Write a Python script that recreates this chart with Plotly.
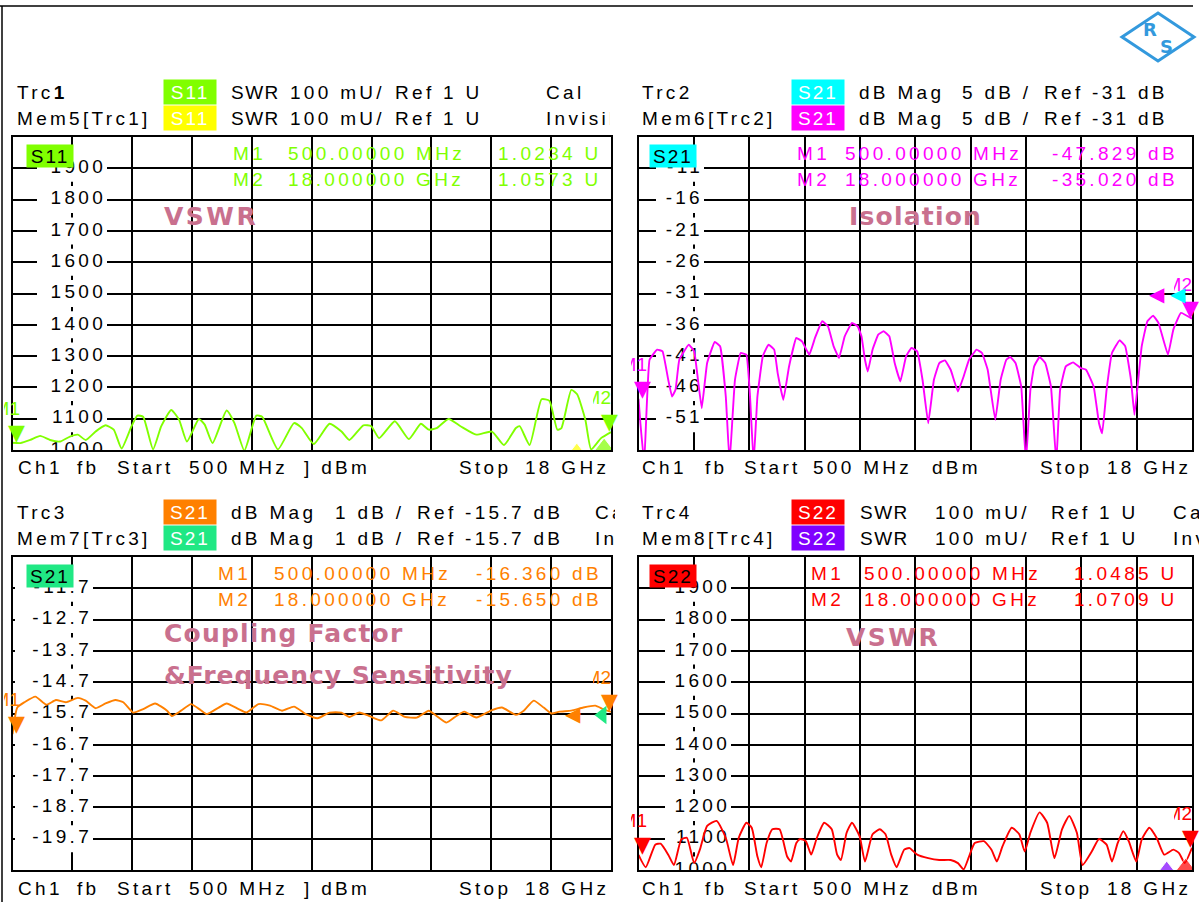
import plotly.graph_objects as go

W, H = 1199, 902
FONT = "Liberation Sans, Arial, sans-serif"
BOLDFONT = "DejaVu Sans, Liberation Sans, sans-serif"

# ---------------- data ----------------
F_START, F_STOP, F_DIV = 0.5, 18.0, 1.75  # GHz

# Trc1 S11 SWR (top left)
s11_freq = [0.50, 0.73, 1.02, 1.31, 1.60, 1.89, 2.18, 2.41, 2.64, 2.93, 3.22, 3.46, 3.69, 3.98, 4.15, 4.32,
            4.61, 4.85, 5.14, 5.37, 5.60, 5.95, 6.12, 6.35, 6.76, 6.99, 7.28, 7.63, 7.80, 8.26, 8.73, 8.96,
            9.31, 9.77, 10.12, 10.35, 10.76, 10.99, 11.22, 11.68, 12.09, 12.44, 12.67, 12.90, 13.25, 13.60,
            14.06, 14.52, 14.87, 15.22, 15.33, 15.62, 15.97, 16.20, 16.43, 16.55, 16.84, 17.01, 17.25, 17.42,
            17.71, 18.00]
s11_swr = [1.0234, 1.022, 1.032, 1.045, 1.032, 1.027, 1.043, 1.049, 1.032, 1.059, 1.079, 1.065, 1.005, 1.076,
           1.110, 1.106, 1.002, 1.076, 1.128, 1.097, 1.027, 1.099, 1.081, 1.022, 1.126, 1.086, 0.998, 1.110,
           1.106, 1.002, 1.086, 1.070, 1.019, 1.084, 1.059, 1.032, 1.079, 1.076, 1.038, 1.092, 1.035, 1.084,
           1.065, 1.070, 1.099, 1.076, 1.049, 1.059, 1.016, 1.070, 1.076, 1.016, 1.162, 1.157, 1.065, 1.070,
           1.192, 1.178, 1.097, 1.002, 1.038, 1.0573]

# Mem6[Trc2] S21 isolation dB (top right)
iso_freq = [0.50, 0.56, 0.68, 0.85, 1.09, 1.26, 1.44, 1.56, 1.67, 1.79, 2.09, 2.26, 2.38, 2.50, 2.67, 2.91,
            3.08, 3.26, 3.38, 3.55, 3.73, 3.91, 4.02, 4.14, 4.26, 4.43, 4.61, 4.79, 4.90, 5.08, 5.26, 5.49,
            5.67, 5.90, 6.08, 6.31, 6.49, 6.67, 6.84, 7.02, 7.25, 7.43, 7.55, 7.66, 7.75, 7.90, 8.08, 8.25,
            8.43, 8.60, 8.78, 8.96, 9.13, 9.31, 9.48, 9.66, 9.84, 10.01, 10.19, 10.37, 10.60, 10.78, 10.95,
            11.19, 11.36, 11.54, 11.78, 11.95, 12.13, 12.25, 12.42, 12.60, 12.75, 12.89, 13.01, 13.18, 13.36,
            13.54, 13.71, 13.83, 14.01, 14.24, 14.48, 14.65, 14.89, 15.06, 15.16, 15.30, 15.47, 15.71, 15.89,
            16.07, 16.18, 16.30, 16.41, 16.59, 16.77, 16.94, 17.24, 17.41, 17.65, 18.00]
iso_db = [-47.83, -51.73, -58.0, -41.58, -39.97, -40.24, -44.78, -47.45, -46.38, -41.58, -39.17, -40.24,
          -44.78, -49.32, -42.11, -38.75, -39.44, -47.45, -58.0, -44.78, -40.51, -40.78, -46.92, -58.0,
          -47.45, -41.04, -39.17, -39.97, -43.71, -47.99, -42.65, -38.10, -38.64, -40.78, -38.10, -35.43,
          -36.24, -39.44, -41.31, -37.84, -35.70, -36.24, -37.84, -41.58, -43.45, -39.97, -37.57, -37.04,
          -37.84, -42.11, -45.05, -41.04, -39.71, -40.24, -44.78, -51.73, -44.78, -42.11, -41.68, -43.18,
          -46.65, -44.25, -41.58, -39.97, -40.51, -43.18, -51.19, -44.78, -41.58, -41.15, -42.11, -45.85,
          -58.0, -46.38, -42.65, -41.15, -42.11, -45.85, -58.0, -46.38, -42.65, -42.00, -42.91, -43.18,
          -45.85, -51.73, -53.33, -46.38, -40.51, -38.48, -39.44, -44.78, -50.39, -44.78, -39.44, -35.43,
          -34.53, -35.70, -40.78, -36.77, -34.10, -35.02]

# Trc3 S21 coupling dB (bottom left)
cpl_freq = [0.50, 0.64, 0.85, 1.17, 1.49, 1.77, 2.06, 2.41, 2.64, 2.93, 3.22, 3.51, 3.74, 4.03, 4.32, 4.67,
            5.02, 5.16, 5.43, 5.72, 6.00, 6.18, 6.53, 6.76, 7.11, 7.34, 7.69, 8.03, 8.38, 8.73, 9.08, 9.42,
            9.77, 10.12, 10.35, 10.64, 10.93, 11.28, 11.63, 11.97, 12.32, 12.67, 12.90, 13.19, 13.48, 13.71,
            14.06, 14.52, 14.81, 15.22, 15.45, 15.74, 16.03, 16.26, 16.49, 16.84, 17.19, 17.54, 17.77, 18.00]
cpl_db = [-16.36, -15.51, -15.34, -15.16, -15.42, -15.27, -15.34, -15.20, -15.29, -15.53, -15.38, -15.27,
          -15.34, -15.67, -15.56, -15.38, -15.61, -15.78, -15.61, -15.40, -15.59, -15.72, -15.51, -15.38,
          -15.56, -15.67, -15.40, -15.45, -15.61, -15.48, -15.72, -15.85, -15.67, -15.67, -15.81, -15.67,
          -15.78, -15.92, -15.61, -15.81, -15.83, -15.61, -15.78, -15.99, -15.78, -15.64, -15.83, -15.59,
          -15.51, -15.74, -15.61, -15.29, -15.51, -15.70, -15.64, -15.61, -15.51, -15.45, -15.56, -15.65]

# Trc4 S22 SWR (bottom right)
s22_freq = [0.50, 0.73, 1.03, 1.20, 1.44, 1.62, 1.85, 2.03, 2.26, 2.44, 2.67, 2.97, 3.26, 3.49, 3.67, 3.91,
            4.08, 4.26, 4.38, 4.55, 4.73, 4.96, 5.20, 5.32, 5.49, 5.61, 5.79, 5.96, 6.14, 6.37, 6.61, 6.78,
            6.90, 7.08, 7.25, 7.49, 7.66, 7.90, 8.13, 8.31, 8.49, 8.66, 8.90, 9.07, 9.31, 9.66, 10.01, 10.37,
            10.60, 10.78, 10.95, 11.13, 11.42, 11.66, 11.83, 12.01, 12.30, 12.54, 12.71, 12.89, 13.18, 13.42,
            13.65, 13.89, 14.12, 14.36, 14.54, 14.83, 15.06, 15.30, 15.47, 15.65, 15.83, 16.00, 16.24, 16.41,
            16.65, 16.88, 17.12, 17.41, 17.59, 17.77, 18.00]
s22_swr = [1.0485, 1.009, 1.081, 1.084, 1.049, 1.016, 1.097, 1.103, 1.022, 1.065, 1.141, 1.157, 1.103, 1.016,
           1.103, 1.151, 1.135, 1.043, 1.009, 1.086, 1.130, 1.130, 1.043, 1.027, 1.086, 1.099, 1.092, 1.049,
           1.103, 1.151, 1.130, 1.049, 1.032, 1.119, 1.151, 1.108, 1.027, 1.114, 1.130, 1.114, 1.049, 1.009,
           1.065, 1.070, 1.049, 1.038, 1.032, 1.032, 1.022, 1.002, 1.043, 1.086, 1.092, 1.065, 1.027, 1.076,
           1.135, 1.114, 1.059, 1.119, 1.184, 1.151, 1.038, 1.130, 1.173, 1.119, 1.016, 1.059, 1.099, 1.081,
           1.027, 1.086, 1.124, 1.092, 1.027, 1.097, 1.135, 1.103, 1.049, 1.065, 1.054, 1.022, 1.0709]

# marker values (M1 at 500 MHz, M2 at 18 GHz)
mk_freq = [0.5, 18.0]
mk_freq_text = ["500.00000 MHz", "18.000000 GHz"]
tl_mk = [1.0234, 1.0573]
tr_mk = [-47.829, -35.020]
bl_mk = [-16.360, -15.650]
br_mk = [1.0485, 1.0709]

# axis scales and grid-value labels
swr_range = [1.0, 2.0]
iso_range = [-56.0, -6.0]
cpl_range = [-20.7, -10.7]
swr_ticks = [1.9, 1.8, 1.7, 1.6, 1.5, 1.4, 1.3, 1.2, 1.1, 1.0]
swr_tick_text = ["1900", "1800", "1700", "1600", "1500", "1400", "1300", "1200", "1100", "1000"]
iso_ticks = [-11, -16, -21, -26, -31, -36, -41, -46, -51]
iso_tick_text = ["-11", "-16", "-21", "-26", "-31", "-36", "-41", "-46", "-51"]
cpl_ticks = [-11.7, -12.7, -13.7, -14.7, -15.7, -16.7, -17.7, -18.7, -19.7]
cpl_tick_text = ["-11.7", "-12.7", "-13.7", "-14.7", "-15.7", "-16.7", "-17.7", "-18.7", "-19.7"]
ref_iso, ref_cpl = -31.0, -15.7

GREEN, YELLOW = "#80ff00", "#ffff00"
CYAN, MAGENTA = "#00ffff", "#ff00ff"
ORANGE, MEMGREEN = "#ff8000", "#20e884"
RED, PURPLE = "#ff0000", "#8000ff"
PINK = "#c9708e"
LOGO = "#3399dd"

# ---------------- layout geometry (px) ----------------
LX, RX = (12.5, 611.0), (638.5, 1192.0)
TY, BY = (137.0, 450.0), (557.0, 870.0)


def px(x):
    return x / W


def py(y):
    return 1 - y / H


def fx(p, dom):
    """pixel column -> frequency on a panel's x axis"""
    return F_START + (p - dom[0]) / (dom[1] - dom[0]) * (F_STOP - F_START)


def sp(t, ls=3.3):
    return f'<span style="letter-spacing:{ls}px">{t}</span>' if ls else t


def T(text, x, y, size=19, color="black", anchor="left", ls=3.3, family=FONT, **kw):
    a = dict(text=sp(text, ls), x=px(x), y=py(y), xref="paper", yref="paper", xanchor=anchor,
             yanchor="middle", showarrow=False, font=dict(family=family, size=size, color=color))
    a.update(kw)
    return a


fig = go.Figure()
shapes = []

# ---------- grid value labels: white boxes (between grid and traces) + clipped text ----------
def ylabels(vals, texts, xa, ya, xdom, ydom, rng, left, right):
    half = 13.5 * (rng[1] - rng[0]) / (ydom[1] - ydom[0])
    for v in vals:
        shapes.append(dict(type="rect", xref=xa, yref=ya, x0=fx(left, xdom), x1=fx(right, xdom),
                           y0=v - half, y1=v + half, fillcolor="white", line=dict(width=0), layer="between"))
    fig.add_trace(go.Scatter(x=[fx(right - 1, xdom)] * len(vals), y=vals, mode="text",
                             text=[sp(t) for t in texts], textposition="middle left",
                             textfont=dict(family=FONT, size=19, color="black"),
                             xaxis=xa, yaxis=ya, hoverinfo="skip", cliponaxis=True))


ylabels(swr_ticks, swr_tick_text, "x", "y", LX, TY, swr_range, 37, 107)
ylabels(iso_ticks, iso_tick_text, "x2", "y2", RX, TY, iso_range, 656, 704)
ylabels(cpl_ticks, cpl_tick_text, "x3", "y3", LX, BY, cpl_range, 15, 93)
ylabels(swr_ticks, swr_tick_text, "x4", "y4", RX, BY, swr_range, 665, 731)

line_kw = dict(width=1.9)
fig.add_trace(go.Scatter(x=s11_freq, y=s11_swr, mode="lines", xaxis="x", yaxis="y",
                         line=dict(color=GREEN, shape="spline", smoothing=0.5, **line_kw), hoverinfo="skip"))
fig.add_trace(go.Scatter(x=iso_freq, y=iso_db, mode="lines", xaxis="x2", yaxis="y2",
                         line=dict(color=MAGENTA, shape="spline", smoothing=0.3, **line_kw), hoverinfo="skip"))
fig.add_trace(go.Scatter(x=cpl_freq, y=cpl_db, mode="lines", xaxis="x3", yaxis="y3",
                         line=dict(color=ORANGE, shape="spline", smoothing=0.5, **line_kw), hoverinfo="skip"))
fig.add_trace(go.Scatter(x=s22_freq, y=s22_swr, mode="lines", xaxis="x4", yaxis="y4",
                         line=dict(color=RED, shape="spline", smoothing=0.5, **line_kw), hoverinfo="skip"))

# memory-trace marker stubs at the bottom right corners (clipped)
fig.add_trace(go.Scatter(x=[17.0, 17.8], y=[swr_range[0], swr_range[0]], mode="markers", xaxis="x", yaxis="y",
                         marker=dict(symbol="triangle-up", size=[14, 24], color=[YELLOW, GREEN]), hoverinfo="skip"))
fig.add_trace(go.Scatter(x=[17.2, 17.8], y=[swr_range[0], swr_range[0]], mode="markers", xaxis="x4", yaxis="y4",
                         marker=dict(symbol="triangle-up", size=[18, 24], color=[PURPLE, RED]), hoverinfo="skip"))
fig.add_trace(go.Scatter(x=[17.75], y=[ref_cpl - 0.05], mode="markers", xaxis="x3", yaxis="y3",
                         marker=dict(symbol="triangle-left", size=16, color=MEMGREEN), hoverinfo="skip"))


def xax(dom, anchor):
    return dict(domain=[px(dom[0]), px(dom[1])], range=[F_START, F_STOP], tick0=F_START, dtick=F_DIV,
                showgrid=True, gridcolor="black", gridwidth=2, showline=True, linecolor="black", linewidth=2,
                mirror=True, showticklabels=False, ticks="", zeroline=False, anchor=anchor, fixedrange=True)


def yax(dom, rng, dt, anchor):
    return dict(domain=[py(dom[1]), py(dom[0])], range=rng, tick0=rng[0], dtick=dt,
                showgrid=True, gridcolor="black", gridwidth=2, showline=True, linecolor="black", linewidth=2,
                mirror=True, showticklabels=False, ticks="", zeroline=False, anchor=anchor, fixedrange=True)


ann = []

# ---------- headers ----------
def header(x0, y0, trc, mem, c1, c2, sparam, fmt, scale, ref, tail1, tail2, pos):
    ann.append(T(trc, x0, y0))
    ann.append(T(mem, x0, y0 + 26))
    for yy, col in ((y0, c1), (y0 + 26, c2)):
        ann.append(T(sparam, pos[0], yy, color="white", anchor="center", bgcolor=col, width=50, height=22,
                     borderpad=1, ls=2))
        ann.append(T(fmt, pos[1], yy, ls=1.5 if fmt == "SWR" else 3.3))
        ann.append(T(scale, pos[2], yy))
        ann.append(T(ref, pos[3], yy))
    if tail1:
        ann.append(T(tail1, pos[4], y0, width=pos[5], align="left"))
        ann.append(T(tail2, pos[4], y0 + 26, width=pos[5], align="left"))


header(15, 92, "Trc<b>1</b>", "Mem5[Trc1]", GREEN, YELLOW, "S11", "SWR", "100 mU/", "Ref 1 U",
       "Cal", "Invisible", (190, 229, 288, 393, 544, 64))
header(640, 92, "Trc2", "Mem6[Trc2]", CYAN, MAGENTA, "S21", "dB Mag", "5 dB /", "Ref -31 dB",
       None, None, (818, 857, 960, 1042))
header(15, 512, "Trc3", "Mem7[Trc3]", ORANGE, MEMGREEN, "S21", "dB Mag", "1 dB /", "Ref -15.7 dB",
       "Cal", "Invisible", (190, 229, 333, 415, 593, 20))
header(640, 512, "Trc4", "Mem8[Trc4]", RED, PURPLE, "S22", "SWR", "100 mU/", "Ref 1 U",
       "Cal", "Invisible", (818, 858, 933, 1049, 1171, 40))

# ---------- in-plot trace labels ----------
for cx, cy, t, col in ((50, 156, "S11", GREEN), (673, 156, "S21", CYAN),
                       (50, 576, "S21", MEMGREEN), (673, 576, "S22", RED)):
    ann.append(T(t, cx, cy, anchor="center", bgcolor=col, width=44, height=20, borderpad=1, ls=2))

# ---------- marker readouts ----------
def readout(vals, unit, col, xm, xf, xr, y0):
    for i, (fq, v) in enumerate(zip(mk_freq_text, vals)):
        yy = y0 + 26 * i
        ann.append(T(f"M{i + 1}", xm, yy, color=col))
        ann.append(T(fq, xf, yy, color=col))
        vt = f"{v:.4f} U" if unit == "U" else f"{v:.3f} dB"
        ann.append(T(vt, xr, yy, color=col, anchor="right"))


readout(tl_mk, "U", GREEN, 231, 286, 604, 153)
readout(tr_mk, "dB", MAGENTA, 795, 843, 1180, 153)
readout(bl_mk, "dB", ORANGE, 216, 272, 604, 573)
readout(br_mk, "U", RED, 809, 862, 1180, 573)

# ---------- annotation texts ----------
for t, x, y, ls in (("VSWR", 162, 216, 2.5), ("Isolation", 847, 216, 1.2),
                    ("Coupling Factor", 162, 633, 1.2), ("&amp;Frequency Sensitivity", 162, 675, 1.0),
                    ("VSWR", 844, 637, 2.5)):
    ann.append(T(f"<b>{t}</b>", x, y, size=25, color=PINK, ls=ls, family=BOLDFONT))

# ---------- footers ----------
for yy in (468, 888):
    for t, x in (("Ch1", 16), ("fb", 75), ("Start", 115), ("500 MHz", 187), ("] dBm", 302)):
        ann.append(T(t, x, yy))
    ann.append(T("Stop", 457, yy))
    ann.append(T("18 GHz", 611, yy, anchor="right"))
    for t, x in (("Ch1", 640), ("fb", 703), ("Start", 742), ("500 MHz", 811), ("dBm", 930)):
        ann.append(T(t, x, yy))
    ann.append(T("Stop", 1038, yy))
    ann.append(T("18 GHz", 1193, yy, anchor="right"))

# ---------- marker triangles ----------
def tri(xref, yref, x, y, col, sym="▼", xshift=0, yshift=-4, size=22):
    ann.append(dict(text=sym, x=x, y=y, xref=xref, yref=yref, xanchor="center", yanchor="bottom",
                    xshift=xshift, yshift=yshift, showarrow=False,
                    font=dict(family="DejaVu Sans", size=size, color=col)))


def mlabel(xref, yref, x, y, text, col, xshift, width, yshift=22):
    ann.append(dict(text=text, x=x, y=y, xref=xref, yref=yref, xanchor="right", yanchor="bottom",
                    xshift=xshift, yshift=yshift, showarrow=False, width=width, align="right",
                    font=dict(family=FONT, size=19, color=col)))


for (xr, yr, vals, col) in (("x", "y", tl_mk, GREEN), ("x2", "y2", tr_mk, MAGENTA),
                            ("x3", "y3", bl_mk, ORANGE), ("x4", "y4", br_mk, RED)):
    tri(xr, yr, mk_freq[0], vals[0], col, xshift=4)
    tri(xr, yr, mk_freq[1], vals[1], col, xshift=-2)
    mlabel(xr, yr, mk_freq[0], vals[0], "M1", col, 10, 16)
    mlabel(xr, yr, mk_freq[1], vals[1], "M2", col, 2, 18)

# reference level arrows
for xp, ref, yref, col in ((1147, ref_iso, "y2", MAGENTA), (1168, ref_iso, "y2", CYAN),
                           (563, ref_cpl, "y3", ORANGE)):
    ann.append(dict(text="◀", x=px(xp), y=ref, xref="paper", yref=yref, xanchor="left", yanchor="middle",
                    showarrow=False, font=dict(family="DejaVu Sans", size=20, color=col)))

# ---------- logo ----------
ann.append(T("<b>R</b>", 1150, 30, size=18, color=LOGO, anchor="center", ls=0, family=BOLDFONT))
ann.append(T("<b>S</b>", 1166, 46, size=18, color=LOGO, anchor="center", ls=0, family=BOLDFONT))

shapes += [
    dict(type="line", xref="paper", yref="paper", x0=px(0), x1=px(1193), y0=py(6), y1=py(6),
         line=dict(color="black", width=1.5)),
    dict(type="line", xref="paper", yref="paper", x0=px(2), x1=px(2), y0=py(6), y1=py(902),
         line=dict(color="black", width=1.5)),
    dict(type="path", xref="paper", yref="paper",
         path=f"M {px(1122)},{py(37)} L {px(1158)},{py(13)} L {px(1194)},{py(37)} L {px(1158)},{py(61)} Z",
         line=dict(color=LOGO, width=3), fillcolor="white"),
]

fig.update_layout(
    width=W, height=H, margin=dict(l=0, r=0, t=0, b=0), autosize=False,
    paper_bgcolor="white", plot_bgcolor="white", showlegend=False,
    xaxis=xax(LX, "y"), yaxis=yax(TY, swr_range, 0.1, "x"),
    xaxis2=xax(RX, "y2"), yaxis2=yax(TY, iso_range, 5, "x2"),
    xaxis3=xax(LX, "y3"), yaxis3=yax(BY, cpl_range, 1, "x3"),
    xaxis4=xax(RX, "y4"), yaxis4=yax(BY, swr_range, 0.1, "x4"),
    annotations=ann, shapes=shapes,
)

fig.write_html("out.html", config={"displayModeBar": False},
               post_script="document.body.style.margin='0px';document.body.style.overflow='hidden';")
